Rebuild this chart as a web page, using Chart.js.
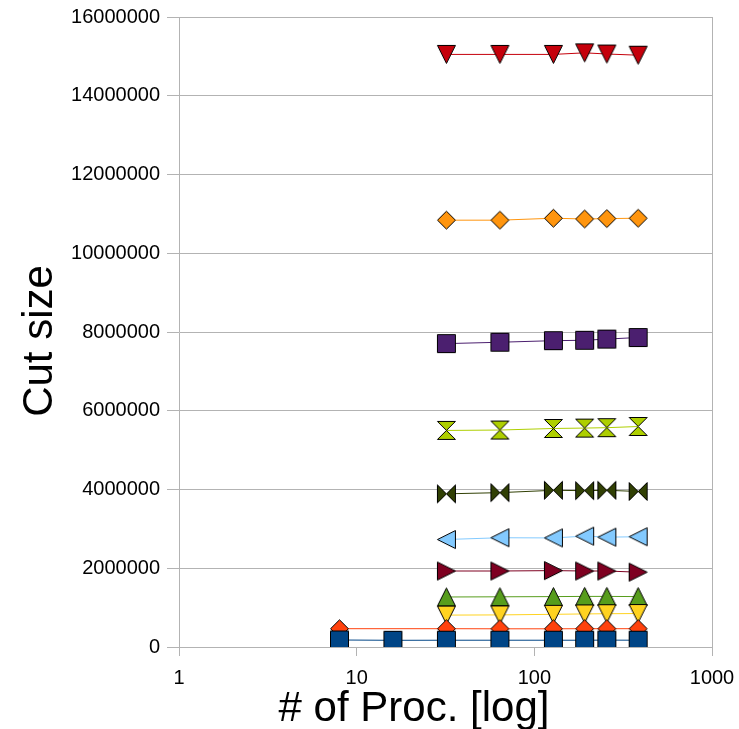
<!DOCTYPE html>
<html>
<head>
<meta charset="utf-8">
<script src="https://cdn.jsdelivr.net/npm/chart.js@4"></script>
<style>
  body { margin: 0; background: #fff; }
  canvas { display: block; }
</style>
</head>
<body>
<canvas id="cutChart" width="739" height="729"></canvas>
<script>
// number of processes (x, log scale)
const procs = [8, 16, 32, 64, 128, 192, 256, 384];

// cut size per run, null = no point at that proc count
const cutA = [178000, 170000, 172000, 172000, 172000, 172000, 175000, 172000];
const cutB = [465000, null, 465000, 462000, 462000, 465000, 465000, 465000];
const cutC = [null, null, 810000, 815000, 830000, 840000, 845000, 850000];
const cutD = [null, null, 1270000, 1275000, 1280000, 1285000, 1285000, 1280000];
const cutE = [null, null, 1930000, 1930000, 1940000, 1930000, 1930000, 1900000];
const cutF = [null, null, 2730000, 2775000, 2770000, 2815000, 2790000, 2800000];
const cutG = [null, null, 3890000, 3920000, 3980000, 3970000, 3980000, 3950000];
const cutH = [null, null, 5500000, 5510000, 5550000, 5560000, 5570000, 5600000];
const cutI = [null, null, 7705000, 7740000, 7780000, 7790000, 7820000, 7860000];
const cutJ = [null, null, 10840000, 10840000, 10890000, 10870000, 10880000, 10890000];
const cutK = [null, null, 15050000, 15050000, 15050000, 15090000, 15060000, 15030000];

const xTicks = [1, 10, 100, 1000];
const yMax = 16000000;
const yStep = 2000000;

const GRID = '#b3b3b3';

/**
 * Builds a small canvas with a LibreOffice-like chart symbol,
 * used as the point style of a dataset.
 */
function makeMarker(shape, color) {
    const c = document.createElement('canvas');
    c.width = 21;
    c.height = 21;
    const ctx = c.getContext('2d');
    const L = 1.5, R = 19.5, T = 1.5, B = 19.5, C = 10.5;
    let pts;
    switch (shape) {
        case 'square':  pts = [[L, T], [R, T], [R, B], [L, B]]; break;
        case 'diamond': pts = [[C, T], [R, C], [C, B], [L, C]]; break;
        case 'down':    pts = [[L, T], [R, T], [C, B]]; break;
        case 'up':      pts = [[C, T], [R, B], [L, B]]; break;
        case 'right':   pts = [[L, T], [R, C], [L, B]]; break;
        case 'left':    pts = [[R, T], [L, C], [R, B]]; break;
        case 'bowtie':  pts = [[L, T], [C, C], [R, T], [R, B], [C, C], [L, B]]; break;
        case 'hourglass': pts = [[L, T], [R, T], [C, C], [R, B], [L, B], [C, C]]; break;
    }
    ctx.beginPath();
    ctx.moveTo(pts[0][0], pts[0][1]);
    for (let i = 1; i < pts.length; i++) ctx.lineTo(pts[i][0], pts[i][1]);
    ctx.closePath();
    ctx.fillStyle = color;
    ctx.fill();
    ctx.lineWidth = 1;
    ctx.strokeStyle = '#000';
    ctx.lineJoin = 'miter';
    ctx.stroke();
    return c;
}

function toPoints(values) {
    const out = [];
    values.forEach((v, i) => {
        if (v !== null) out.push({x: procs[i], y: v});
    });
    return out;
}

const seriesDefs = [
    {label: 'A', values: cutA, color: '#004586', shape: 'square'},
    {label: 'B', values: cutB, color: '#ff420e', shape: 'diamond'},
    {label: 'C', values: cutC, color: '#ffd320', shape: 'down'},
    {label: 'D', values: cutD, color: '#579d1c', shape: 'up'},
    {label: 'E', values: cutE, color: '#7e0021', shape: 'right'},
    {label: 'F', values: cutF, color: '#83caff', shape: 'left'},
    {label: 'G', values: cutG, color: '#314004', shape: 'bowtie'},
    {label: 'H', values: cutH, color: '#aecf00', shape: 'hourglass'},
    {label: 'I', values: cutI, color: '#4b1f6f', shape: 'square'},
    {label: 'J', values: cutJ, color: '#ff950e', shape: 'diamond'},
    {label: 'K', values: cutK, color: '#c5000b', shape: 'down'}
];

const datasets = seriesDefs.map(s => ({
    label: s.label,
    data: toPoints(s.values),
    borderColor: s.color,
    backgroundColor: s.color,
    borderWidth: 1,
    tension: 0,
    pointStyle: makeMarker(s.shape, s.color),
    pointRadius: 10,
    pointHoverRadius: 10
}));

// axis titles + right frame line, drawn at fixed spots like the original
const frameAndTitles = {
    id: 'frameAndTitles',
    afterDraw(chart) {
        const {ctx, chartArea} = chart;
        ctx.save();
        ctx.strokeStyle = GRID;
        ctx.lineWidth = 1;
        ctx.beginPath();
        const xr = Math.round(chartArea.right) + 0.5;
        ctx.moveTo(xr, chartArea.top);
        ctx.lineTo(xr, chartArea.bottom);
        ctx.stroke();

        ctx.fillStyle = '#000';
        ctx.font = '42px "Liberation Sans", Arial, sans-serif';
        ctx.textAlign = 'center';
        ctx.textBaseline = 'alphabetic';
        ctx.fillText('# of Proc. [log]', 414, 721);

        ctx.translate(52, 341);
        ctx.rotate(-Math.PI / 2);
        ctx.fillText('Cut size', 0, 0);
        ctx.restore();
    }
};

const chart = new Chart(document.getElementById('cutChart'), {
    type: 'line',
    data: {datasets: datasets},
    options: {
        responsive: false,
        animation: false,
        layout: {padding: {top: 17, right: 27, left: 0, bottom: 0}},
        plugins: {
            legend: {display: false},
            tooltip: {enabled: false}
        },
        scales: {
            x: {
                type: 'logarithmic',
                min: 1,
                max: 1000,
                afterBuildTicks: scale => {
                    scale.ticks = xTicks.map(v => ({value: v, major: true}));
                },
                afterFit: scale => {
                    scale.height = 82;
                    scale.paddingLeft = 0;
                    scale.paddingRight = 0;
                },
                grid: {
                    drawOnChartArea: false,
                    color: GRID,
                    tickLength: 9
                },
                border: {color: GRID},
                ticks: {
                    color: '#000',
                    padding: 10,
                    maxRotation: 0,
                    autoSkip: false,
                    font: {family: '"Liberation Sans", Arial, sans-serif', size: 20},
                    callback: v => String(v)
                }
            },
            y: {
                min: 0,
                max: yMax,
                afterFit: scale => {
                    scale.width = 179;
                    scale.paddingTop = 0;
                    scale.paddingBottom = 0;
                },
                grid: {color: GRID, tickLength: 12},
                border: {color: GRID},
                ticks: {
                    stepSize: yStep,
                    color: '#000',
                    padding: 7,
                    font: {family: '"Liberation Sans", Arial, sans-serif', size: 20},
                    callback: v => String(v)
                }
            }
        }
    },
    plugins: [frameAndTitles]
});
</script>
</body>
</html>
